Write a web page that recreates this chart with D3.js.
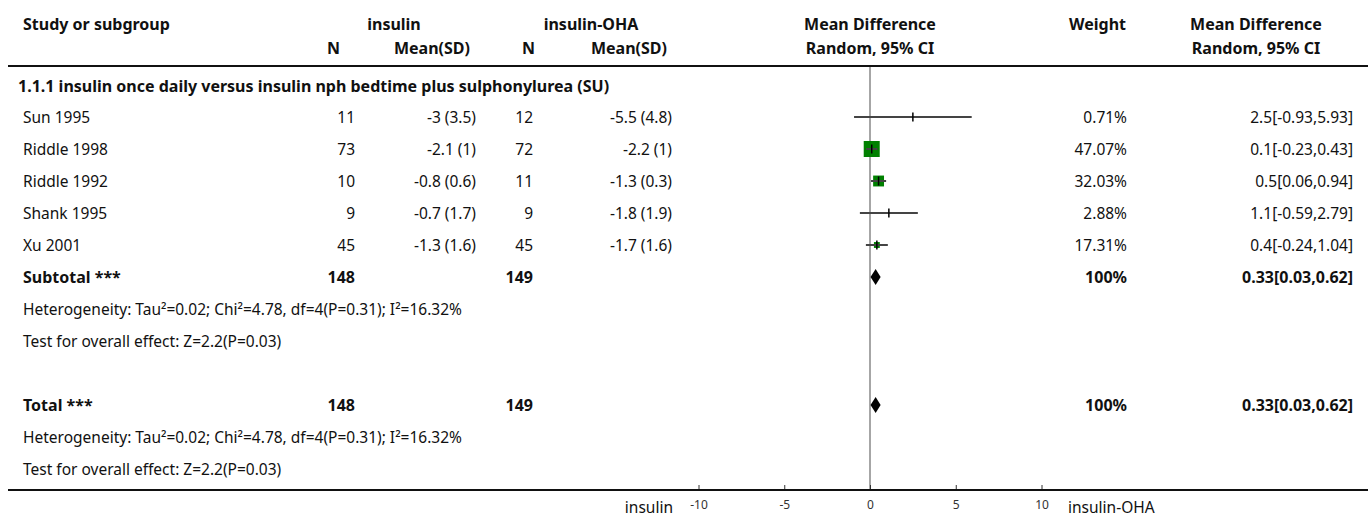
<!DOCTYPE html>
<html lang="en">
<head>
<meta charset="utf-8">
<title>Forest plot</title>
<script src="https://d3js.org/d3.v7.min.js"></script>
<style>
  body { margin: 0; background: #fff; }
  svg text { font-family: "Noto Sans", sans-serif; font-size: 15.5px; fill: #111; }
  .bold { font-weight: bold; font-size: 16px; }
  .tick text { font-size: 12px; fill: #333; }
</style>
</head>
<body>
<script>
// study data
var studies = ["Sun 1995", "Riddle 1998", "Riddle 1992", "Shank 1995", "Xu 2001"];
var n1 = [11, 73, 10, 9, 45];
var mean1 = [-3, -2.1, -0.8, -0.7, -1.3];
var sd1 = [3.5, 1, 0.6, 1.7, 1.6];
var n2 = [12, 72, 11, 9, 45];
var mean2 = [-5.5, -2.2, -1.3, -1.8, -1.7];
var sd2 = [4.8, 1, 0.3, 1.9, 1.6];
var md = [2.5, 0.1, 0.5, 1.1, 0.4];
var ciLow = [-0.93, -0.23, 0.06, -0.59, -0.24];
var ciHigh = [5.93, 0.43, 0.94, 2.79, 1.04];
var weights = [0.71, 47.07, 32.03, 2.88, 17.31];

// pooled
var pooled = { md: 0.33, lo: 0.03, hi: 0.62, n1: 148, n2: 149, weight: "100%" };
var heterogeneity = "Heterogeneity: Tau\u00b2=0.02; Chi\u00b2=4.78, df=4(P=0.31); I\u00b2=16.32%";
var overall = "Test for overall effect: Z=2.2(P=0.03)";
var subgroupTitle = "1.1.1 insulin once daily versus insulin nph bedtime plus sulphonylurea (SU)";
var tickValues = [-10, -5, 0, 5, 10];

var w = 1372, h = 517;
var rowH = 32;
var firstRow = 117;

var svg = d3.select("body").append("svg")
  .attr("width", w)
  .attr("height", h);

var x = d3.scaleLinear().domain([-10, 10]).range([698.5, 1041.5]);
var boxSize = d3.scaleLinear().domain([0, 47.07]).range([0, 16]);

// column positions
var col = { study: 23, n1: 355, m1: 476, n2: 533, m2: 672, weight: 1127, md: 1353 };

function txt(xp, yp, s, anchor, bold) {
  svg.append("text")
    .attr("x", xp).attr("y", yp)
    .attr("dominant-baseline", "central")
    .attr("text-anchor", anchor || "start")
    .attr("class", bold ? "bold" : null)
    .text(s);
}

// headers
txt(col.study, 24, "Study or subgroup", "start", true);
txt(394, 24, "insulin", "middle", true);
txt(591, 24, "insulin-OHA", "middle", true);
txt(870, 24, "Mean Difference", "middle", true);
txt(1126, 24, "Weight", "end", true);
txt(1256, 24, "Mean Difference", "middle", true);
txt(340, 48, "N", "end", true);
txt(470, 48, "Mean(SD)", "end", true);
txt(535, 48, "N", "end", true);
txt(667, 48, "Mean(SD)", "end", true);
txt(870, 48, "Random, 95% CI", "middle", true);
txt(1256, 48, "Random, 95% CI", "middle", true);

svg.append("line")
  .attr("x1", 8).attr("x2", 1368)
  .attr("y1", 66).attr("y2", 66)
  .attr("stroke", "#111").attr("stroke-width", 2);

// zero line
svg.append("line")
  .attr("x1", x(0)).attr("x2", x(0))
  .attr("y1", 67).attr("y2", 490)
  .attr("stroke", "#888").attr("stroke-width", 1.5);

txt(18, 86, subgroupTitle, "start", true);

var rowY = function(i) { return firstRow + i * rowH; };

studies.forEach(function(s, i) {
  var y = rowY(i);
  txt(col.study, y, s);
  txt(col.n1, y, n1[i], "end");
  txt(col.m1, y, mean1[i] + " (" + sd1[i] + ")", "end");
  txt(col.n2, y, n2[i], "end");
  txt(col.m2, y, mean2[i] + " (" + sd2[i] + ")", "end");
  txt(col.weight, y, weights[i] + "%", "end");
  txt(col.md, y, md[i] + "[" + ciLow[i] + "," + ciHigh[i] + "]", "end");
});

// weight boxes
svg.selectAll(".box")
  .data(studies)
  .enter().append("rect")
  .attr("class", "box")
  .attr("x", function(d, i) { return x(md[i]) - boxSize(weights[i]) / 2; })
  .attr("y", function(d, i) { return rowY(i) - boxSize(weights[i]) / 2; })
  .attr("width", function(d, i) { return boxSize(weights[i]); })
  .attr("height", function(d, i) { return boxSize(weights[i]); })
  .attr("fill", "#008000");

// CI lines
svg.selectAll(".ci")
  .data(studies)
  .enter().append("line")
  .attr("class", "ci")
  .attr("x1", function(d, i) { return x(ciLow[i]); })
  .attr("x2", function(d, i) { return x(ciHigh[i]); })
  .attr("y1", function(d, i) { return rowY(i); })
  .attr("y2", function(d, i) { return rowY(i); })
  .attr("stroke", "#444").attr("stroke-width", 2);

// point ticks
svg.selectAll(".pt")
  .data(studies)
  .enter().append("line")
  .attr("class", "pt")
  .attr("x1", function(d, i) { return x(md[i]); })
  .attr("x2", function(d, i) { return x(md[i]); })
  .attr("y1", function(d, i) { return rowY(i) - 4.5; })
  .attr("y2", function(d, i) { return rowY(i) + 4.5; })
  .attr("stroke", "#000").attr("stroke-width", 1.5);

// pooled rows
function pooledRow(y, label) {
  txt(col.study, y, label, "start", true);
  txt(col.n1, y, pooled.n1, "end", true);
  txt(col.n2, y, pooled.n2, "end", true);
  txt(col.weight, y, pooled.weight, "end", true);
  txt(col.md, y, pooled.md + "[" + pooled.lo + "," + pooled.hi + "]", "end", true);
  svg.append("path")
    .attr("d", "M" + x(pooled.lo) + "," + y + "L" + x(pooled.md) + "," + (y - 8) +
      "L" + x(pooled.hi) + "," + y + "L" + x(pooled.md) + "," + (y + 8) + "Z")
    .attr("fill", "#000");
}

pooledRow(rowY(5), "Subtotal ***");
txt(col.study, rowY(6), heterogeneity);
txt(col.study, rowY(7), overall);
pooledRow(rowY(9), "Total ***");
txt(col.study, rowY(10), heterogeneity);
txt(col.study, rowY(11), overall);

// bottom axis
var axis = d3.axisBottom(x)
  .tickValues(tickValues)
  .tickFormat(String)
  .tickSize(-5)
  .tickPadding(10);

var gAxis = svg.append("g")
  .attr("transform", "translate(0,490)")
  .call(axis);
gAxis.select(".domain").remove();
gAxis.selectAll(".tick line").attr("stroke", "#333");

svg.append("line")
  .attr("x1", 8).attr("x2", 1368)
  .attr("y1", 490).attr("y2", 490)
  .attr("stroke", "#111").attr("stroke-width", 2);

svg.append("text")
  .attr("x", 673).attr("y", 507)
  .attr("dominant-baseline", "central")
  .attr("text-anchor", "end")
  .text("insulin");
svg.append("text")
  .attr("x", 1068).attr("y", 507)
  .attr("dominant-baseline", "central")
  .text("insulin-OHA");
</script>
</body>
</html>
